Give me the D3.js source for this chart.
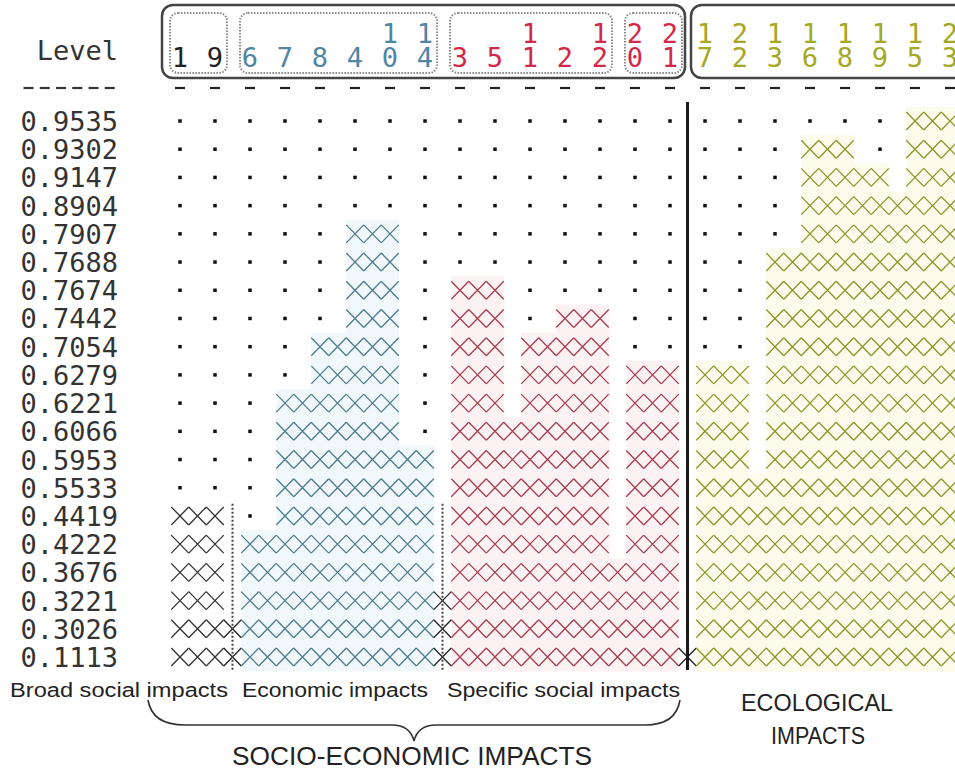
<!DOCTYPE html>
<html><head><meta charset="utf-8">
<script src="https://cdn.jsdelivr.net/npm/d3@7"></script>
<style>body{margin:0;background:#fff}</style>
</head><body><svg id="c" width="955" height="771"></svg>
<script>
// ---- data ----
const items = [1,9,6,7,8,4,10,14,3,5,11,2,12,20,21,17,22,13,16,18,19,15,23];
const itemGroup = [0,0,1,1,1,1,1,1,2,2,2,2,2,2,2,3,3,3,3,3,3,3,3];
const subGroups = [[1,9],[6,14],[3,12],[20,21]];
const mainGroups = [[1,21],[17,23]];
const levels = [0.9535,0.9302,0.9147,0.8904,0.7907,0.7688,0.7674,0.7442,0.7054,0.6279,
                0.6221,0.6066,0.5953,0.5533,0.4419,0.4222,0.3676,0.3221,0.3026,0.1113];
const clusters = [
 [[15,23]],
 [[16,18],[15,23]],
 [[16,19],[15,23]],
 [[16,23]],
 [[4,10],[16,23]],
 [[4,10],[13,23]],
 [[4,10],[3,5],[13,23]],
 [[4,10],[3,5],[2,12],[13,23]],
 [[8,10],[3,5],[11,12],[13,23]],
 [[8,10],[3,5],[11,12],[20,21],[17,22],[13,23]],
 [[7,10],[3,5],[11,12],[20,21],[17,22],[13,23]],
 [[7,10],[3,12],[20,21],[17,22],[13,23]],
 [[7,14],[3,12],[20,21],[17,22],[13,23]],
 [[7,14],[3,12],[20,21],[17,23]],
 [[1,9],[7,14],[3,12],[20,21],[17,23]],
 [[1,9],[6,14],[3,12],[20,21],[17,23]],
 [[1,9],[6,14],[3,21],[17,23]],
 [[1,9],[6,21],[17,23]],
 [[1,21],[17,23]],
 [[1,23]]
];
const bottomLabels = ["Broad social impacts","Economic impacts","Specific social impacts"];
const ecoLabel = ["ECOLOGICAL","IMPACTS"];
const parentLabel = "SOCIO-ECONOMIC IMPACTS";
const levelTitle = "Level";

// ---- drawing ----
const W=955,H=771;
const svg = d3.select("#c");
svg.append("rect").attr("width",W).attr("height",H).attr("fill","#fff");
const x = d3.scalePoint().domain(items).range([180,950]);
const y = d3.scalePoint().domain(levels).range([121,657]);
const cw = x.step()/2;
const rowH = y.step();
const colors = ["#222","#4f86a6","#d42848","#a4a824"];
const xColors = ["#333","#4d7c8c","#a63e4e","#8c9628"];
const tints = [null,"#f1f8fb","#fdf2f3","#fbfcec"];
const mono = "'DejaVu Sans Mono', monospace";
const sans = "'Liberation Sans', Arial, sans-serif";
const idx = d => items.indexOf(d);

const gTint = svg.append("g");
const gX = svg.append("g");
const gDots = svg.append("g");

levels.forEach((lv,r)=>{
  const cy = y(lv);
  const covered = new Set();
  clusters[r].forEach(([a,b])=>{
    const i0 = idx(a), i1 = idx(b);
    for(let c=i0;c<=i1;c++) covered.add(c);
    const n = 2*(i1-i0)+1;
    for(let k=0;k<n;k++){
      const cx = x(a) + k*cw;
      let g;
      if(k%2===0) g = itemGroup[i0+k/2];
      else {
        const g1 = itemGroup[i0+(k-1)/2], g2 = itemGroup[i0+(k+1)/2];
        g = g1===g2 ? g1 : -1;
      }
      if(g>0) gTint.append("rect").attr("x",cx-cw/2).attr("y",cy-rowH/2)
          .attr("width",cw+0.5).attr("height",rowH+0.5).attr("fill",tints[g]);
      const h=18, w=cw/2;
      gX.append("path")
        .attr("d",`M${cx-w},${cy-h/2}L${cx+w},${cy+h/2}M${cx-w},${cy+h/2}L${cx+w},${cy-h/2}`)
        .attr("stroke", g<0 ? "#222" : xColors[g]).attr("stroke-width",1.3).attr("fill","none");
    }
  });
  items.forEach((it,c)=>{
    if(!covered.has(c)) gDots.append("rect").attr("x",x(it)-1.75).attr("y",cy-1.75)
      .attr("width",3.5).attr("height",3.5).attr("fill","#111");
  });
});

// vertical separators
const sepX = (a,b)=> (x(a)+x(b))/2;
svg.append("line").attr("x1",sepX(21,17)).attr("x2",sepX(21,17))
  .attr("y1",102).attr("y2",670).attr("stroke","#1a1a1a").attr("stroke-width",3);
[[9,6],[14,3]].forEach(([a,b])=>{
  svg.append("line").attr("x1",sepX(a,b)).attr("x2",sepX(a,b))
    .attr("y1",y(0.4419)-rowH/2+2).attr("y2",670)
    .attr("stroke","#444").attr("stroke-width",2).attr("stroke-dasharray","2,2");
});

// row labels
svg.append("g").selectAll("text").data(levels).join("text")
  .attr("x",118).attr("y",d=>y(d)+10).attr("text-anchor","end")
  .attr("font-family",mono).attr("font-size",27).attr("fill","#333")
  .text(d=>d3.format(".4f")(d));
svg.append("text").attr("x",118).attr("y",60).attr("text-anchor","end")
  .attr("font-family",mono).attr("font-size",27).attr("fill","#333").text(levelTitle);
// label dashes
for(let k=0;k<6;k++){
  const cx = 28.5 + k*16.25;
  svg.append("line").attr("x1",cx-5).attr("x2",cx+5).attr("y1",88).attr("y2",88)
    .attr("stroke","#333").attr("stroke-width",2.2);
}
// header digits & dashes
items.forEach((it,c)=>{
  const s = String(it);
  const col = colors[itemGroup[c]];
  if(s.length===2){
    svg.append("text").attr("x",x(it)).attr("y",43).attr("text-anchor","middle")
      .attr("font-family",mono).attr("font-size",27).attr("fill",col).text(s[0]);
  }
  svg.append("text").attr("x",x(it)).attr("y",67).attr("text-anchor","middle")
    .attr("font-family",mono).attr("font-size",27).attr("fill",col).text(s[s.length-1]);
  svg.append("line").attr("x1",x(it)-5).attr("x2",x(it)+5).attr("y1",88).attr("y2",88)
    .attr("stroke","#222").attr("stroke-width",2.2);
});
// header boxes
mainGroups.forEach(([a,b],i)=>{
  const x0 = i===0 ? x(a)-18 : x(a)-14;
  const x1 = i===0 ? x(b)+15 : W+10;
  svg.append("rect").attr("x",x0).attr("y",5).attr("width",x1-x0).attr("height",73)
    .attr("rx",11).attr("fill","none").attr("stroke","#444").attr("stroke-width",2.5);
});
subGroups.forEach(([a,b])=>{
  const x0 = x(a)-10, x1 = x(b)+12;
  svg.append("rect").attr("x",x0).attr("y",13).attr("width",x1-x0).attr("height",60)
    .attr("rx",8).attr("fill","none").attr("stroke","#8a8a8a").attr("stroke-width",2)
    .attr("stroke-dasharray","1.5,1.5");
});

// bottom labels
const blPos = [[10,218],[242,186],[447,233]];
bottomLabels.forEach((t,i)=>{
  svg.append("text").attr("x",blPos[i][0]).attr("y",697)
    .attr("textLength",blPos[i][1]).attr("lengthAdjust","spacingAndGlyphs")
    .attr("font-family",sans).attr("font-size",20).attr("fill","#222").text(t);
});
svg.append("text").attr("x",741).attr("y",711).attr("textLength",152)
  .attr("lengthAdjust","spacingAndGlyphs").attr("font-family",sans).attr("font-size",24)
  .attr("fill","#222").text(ecoLabel[0]);
svg.append("text").attr("x",771).attr("y",744).attr("textLength",94)
  .attr("lengthAdjust","spacingAndGlyphs").attr("font-family",sans).attr("font-size",24)
  .attr("fill","#222").text(ecoLabel[1]);
svg.append("text").attr("x",232).attr("y",765).attr("textLength",360)
  .attr("lengthAdjust","spacingAndGlyphs").attr("font-family",sans).attr("font-size",26)
  .attr("fill","#222").text(parentLabel);
// brace
svg.append("path")
  .attr("d","M148,700 Q152,725 185,725 L392,725 Q410,725 414,741 Q418,725 436,725 L645,725 Q676,725 680,700")
  .attr("fill","none").attr("stroke","#333").attr("stroke-width",1.6);
</script>
</body></html>
